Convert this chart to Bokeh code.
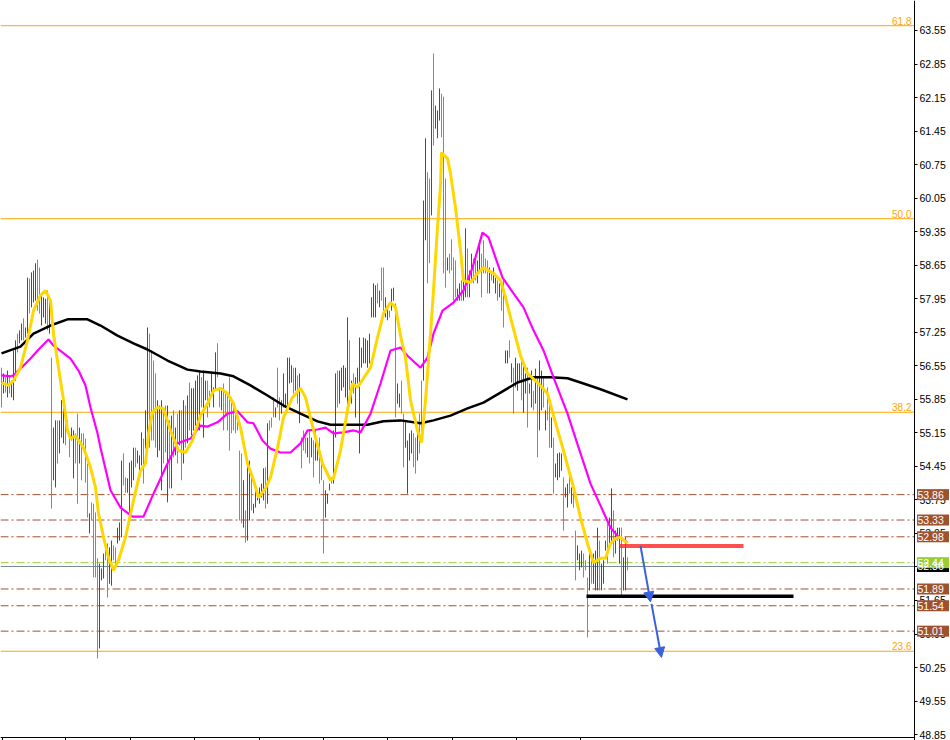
from bokeh.plotting import figure
from bokeh.models import (Range1d, FixedTicker, PrintfTickFormatter, Label, LinearAxis,
                          Arrow, NormalHead, ColumnDataSource)
from bokeh.embed import file_html
from bokeh.resources import INLINE

# ---------------- data ----------------
highs = [
56.51,56.39,56.31,56.45,56.31,56.24,56.87,57.08,57.22,57.29,
57.43,57.54,57.35,58.39,58.37,58.50,58.54,58.69,58.77,58.60,
58.02,57.98,57.95,58.12,57.98,56.72,55.26,55.41,55.41,55.41,
55.83,55.68,55.47,55.41,55.14,55.26,55.20,55.14,55.55,55.26,
55.14,55.14,55.03,54.51,53.47,53.70,53.67,53.49,52.53,52.42,
52.32,52.63,52.76,52.84,52.76,52.90,52.80,52.76,53.17,53.28,
54.57,54.72,54.22,54.20,54.53,54.57,54.84,54.84,54.78,54.68,
55.16,55.03,55.62,57.35,57.22,56.87,56.66,56.39,55.83,55.72,
55.83,55.62,55.72,55.72,55.41,55.51,55.62,55.26,55.55,55.62,
55.62,55.83,55.72,55.93,56.20,56.08,56.08,56.24,56.35,56.45,
56.31,56.45,56.24,56.24,56.03,56.39,56.10,56.83,57.02,56.10,
56.03,56.18,56.03,55.97,56.31,55.89,55.76,55.62,55.47,54.78,
54.72,54.16,53.53,54.57,54.57,54.22,53.67,54.01,53.95,54.01,
54.09,54.41,54.43,55.35,55.41,55.47,55.89,55.68,56.51,55.89,
55.83,56.39,55.97,56.72,56.72,56.56,56.51,56.51,56.35,56.39,
55.05,55.20,55.05,55.05,55.20,55.05,54.99,55.20,54.84,55.05,
54.68,54.16,53.95,53.88,54.09,54.22,55.20,56.39,56.45,56.45,
56.51,56.56,56.51,57.56,57.08,56.24,56.39,56.31,56.51,57.14,
56.93,57.14,57.12,57.08,57.22,57.98,58.27,58.23,58.27,58.12,
58.60,58.60,57.98,57.81,57.70,58.16,58.18,57.85,56.18,55.97,
56.24,55.55,55.41,54.99,55.14,55.20,55.14,55.05,55.26,55.55,
56.24,60.00,61.30,60.59,60.46,62.30,63.07,61.98,61.88,62.34,
62.23,62.17,60.46,58.81,58.89,59.19,58.81,58.75,58.16,58.27,
58.33,58.33,59.42,59.00,58.54,58.89,58.79,58.81,58.75,59.17,
58.89,59.17,58.79,58.75,58.60,58.48,58.60,58.39,58.33,58.27,
58.27,58.33,56.87,56.87,57.08,56.60,56.51,56.72,56.60,56.60,
56.72,56.60,56.39,56.51,56.18,56.45,56.03,56.49,56.31,56.66,
56.45,56.31,55.62,56.10,55.89,55.47,55.05,54.51,54.72,54.74,
54.72,54.22,54.01,54.09,54.30,54.01,53.95,53.11,52.80,52.63,
52.69,52.63,52.49,52.13,52.69,52.55,52.63,52.69,53.17,52.90,
52.42,52.49,52.90,53.26,53.38,53.99,53.53,53.11,53.17,53.17,
53.17,52.55,52.97,52.55]

lows = [
55.68,55.97,55.99,55.89,55.97,55.89,55.83,56.24,56.83,57.02,
57.08,57.08,57.14,57.22,57.64,57.77,57.87,57.91,57.70,57.64,
57.39,57.56,57.43,57.29,57.22,53.57,54.16,54.01,54.51,54.72,
55.05,54.93,54.89,55.16,54.64,54.99,54.20,54.51,53.67,54.51,
54.16,54.84,54.11,53.38,53.05,53.32,52.13,52.13,50.44,50.65,
52.07,52.11,52.49,51.71,52.00,51.96,52.49,52.34,52.84,52.90,
52.97,54.05,53.90,53.90,53.47,54.01,54.16,54.43,54.51,54.16,
54.47,54.09,54.82,54.93,54.84,54.99,54.99,54.84,54.64,54.78,
53.95,54.51,54.74,53.70,53.99,53.99,54.64,54.68,54.51,54.89,
54.16,54.51,54.84,54.93,55.20,55.10,55.20,55.30,55.20,55.20,
55.68,55.05,55.83,55.47,55.68,55.89,55.68,56.03,56.31,55.68,
55.62,55.20,55.55,55.20,54.78,55.14,55.20,55.14,55.20,53.32,
53.26,53.17,52.86,52.90,53.32,53.53,53.47,53.59,53.74,53.67,
53.80,53.74,53.57,53.67,55.20,55.26,55.47,55.47,55.68,55.41,
55.55,55.68,55.68,55.68,56.18,56.20,55.97,56.03,55.76,55.35,
54.41,54.78,54.72,54.64,54.51,54.64,54.22,54.57,54.57,54.09,
54.16,52.63,53.38,53.67,53.95,54.09,54.09,55.05,55.68,55.76,
56.03,56.10,55.89,55.62,56.03,55.76,55.97,55.47,56.18,54.72,
56.51,56.60,56.60,56.51,56.60,57.56,57.56,57.56,57.85,57.77,
57.91,57.70,57.56,57.50,57.56,57.70,57.91,55.47,55.76,55.68,
55.55,54.43,54.84,53.88,54.57,54.72,54.43,54.30,54.57,54.72,
54.99,56.24,59.17,58.27,58.69,59.69,61.15,61.50,61.30,61.67,
61.32,58.48,58.18,58.54,58.48,58.54,57.91,57.98,57.91,57.91,
57.91,57.91,57.98,57.98,57.98,58.33,58.27,58.33,58.27,58.54,
57.98,58.48,58.48,58.06,58.06,58.33,58.27,58.06,57.91,57.98,
57.70,57.35,56.60,56.60,56.72,56.20,55.55,56.10,56.03,56.24,
55.83,55.57,55.97,55.26,55.97,55.68,55.62,55.76,54.64,55.20,
55.62,55.68,55.20,55.41,54.84,54.84,53.88,54.22,54.16,54.22,
54.36,53.11,53.80,53.59,53.88,53.67,53.59,52.07,52.49,52.28,
52.34,52.13,52.28,50.88,51.86,52.00,52.00,51.86,51.86,51.86,
51.86,52.00,52.69,52.42,52.84,52.84,52.55,52.63,52.90,52.42,
51.71,51.86,51.86,52.28]

# bar direction: g = up bar, r = down bar
directions = ("grgrgrrrgr" "rgrrgrrrgg" "rrrgrgrrgr" "rrgrgrrggr" "ggggrggggr"
              "rrggrrggrr" "rggrrrrgrr" "rgrrggggrr" "rggrgrgrgr" "grgrgrrrrr"
              "grrggrrrgg" "rggggggggg" "grgrrgrrrr" "rrgrgggrgg" "rrrrrrgrgr"
              "gggrgrgrrg" "ggrrrgrrgr" "rrrrgrgrrr" "rrrrrrrrgr" "ggrrgrrgrr"
              "ggrrrrggrg" "grrggrgrrr" "gggrggggrr" "grrgrrggrr" "ggggrgrrgr"
              "ggrrgrgrrr" "grrgrrgrgr" "rgrggrgrrr" "rgrrgrggrr" "rgggrgrrrg"
              "rrrgrrgrrr" "grrg")

black_ma_x = [0, 9.5, 16, 24.5, 33, 43, 49.5, 58, 66, 73, 83, 93, 99.5, 109.5, 116,
              124.5, 133, 141, 149.5, 158, 164.5, 174.5, 183, 191, 199.5, 209.5, 216,
              224.5, 233, 241, 249.5, 258, 266, 274.5, 283, 291, 299.5, 313]
black_ma_y = [56.81, 56.95, 57.22, 57.39, 57.52, 57.52, 57.39, 57.18, 57.02, 56.89,
              56.66, 56.47, 56.43, 56.39, 56.33, 56.14, 55.93, 55.72, 55.55, 55.39,
              55.32, 55.32, 55.32, 55.39, 55.41, 55.35, 55.41, 55.51, 55.66, 55.78,
              55.99, 56.20, 56.31, 56.31, 56.29, 56.18, 56.06, 55.85]

magenta_ma_x = [0, 4.5, 6, 9.5, 14.5, 19.5, 23.5, 26, 30.5, 34.5, 38.5, 42, 44.5, 48,
                49.5, 54.5, 59.5, 65.5, 71, 76, 83, 88, 94.5, 99.5, 103, 108, 113, 118,
                123, 126, 130.5, 134.5, 139.5, 144.5, 149.5, 153, 158, 162, 166, 171,
                176, 179.5, 184.5, 189.5, 194.5, 199.5, 203, 209.5, 213, 216, 220.5,
                226, 231, 235.5, 238, 240.5, 243.5, 247, 250.5, 256, 261, 266, 271,
                276, 283, 289.5, 294.5, 299.5, 304.5, 308, 313]
magenta_ma_y = [56.35, 56.33, 56.35, 56.49, 56.70, 56.93, 57.10, 56.97, 56.83, 56.70,
                56.45, 56.14, 55.68, 55.14, 54.84, 53.95, 53.59, 53.40, 53.40, 53.88,
                54.51, 54.93, 55.03, 55.30, 55.28, 55.37, 55.55, 55.60, 55.37, 55.35,
                54.99, 54.82, 54.74, 54.74, 54.93, 55.20, 55.22, 55.26, 55.14, 55.16,
                55.20, 55.16, 55.55, 56.18, 56.87, 56.93, 56.76, 56.51, 56.72, 57.22,
                57.70, 57.87, 58.12, 58.60, 58.96, 59.33, 59.23, 58.81, 58.39, 58.06,
                57.77, 57.29, 56.87, 56.31, 55.55, 54.72, 54.09, 53.63, 53.17, 53.00,
                52.86]

yellow_ma_x = [0, 3.5, 6, 9.5, 13, 16, 19.5, 22, 24.5, 26, 28.5, 31, 33, 34.5, 37, 41,
               44.5, 47, 48.5, 51, 53.5, 56, 58.5, 62, 66, 69.5, 72, 73.5, 75.5, 78, 81,
               84.5, 88.5, 92, 95.5, 99.5, 103, 106, 109.5, 113, 116, 119.5, 123, 126,
               128.5, 132, 134.5, 138, 141, 145.5, 149.5, 152, 154.5, 157, 160.5, 164.5,
               166, 169.5, 173, 175.5, 178, 181, 184.5, 188, 191, 194.5, 197, 199.5,
               202, 204.5, 208, 210, 212, 214.5, 216, 218, 219.5, 220, 223, 224.5, 227,
               229.5, 231, 234.5, 238, 241, 246, 249.5, 252, 254.5, 259.5, 263, 268,
               273, 276, 281, 286, 289.5, 293, 296, 299.5, 302, 304.5, 307, 309.5, 313]
yellow_ma_y = [56.20, 56.14, 56.24, 56.51, 57.08, 57.70, 58.02, 58.12, 57.91, 57.22,
               56.51, 55.83, 55.20, 55.03, 55.09, 54.84, 54.43, 54.01, 53.47, 52.97,
               52.55, 52.28, 52.49, 52.97, 53.74, 54.36, 54.51, 55.14, 55.58, 55.68,
               55.66, 55.20, 54.78, 54.74, 54.99, 55.51, 55.76, 56.03, 56.08, 55.97,
               55.76, 55.26, 54.51, 54.16, 53.80, 53.99, 54.22, 54.84, 55.47, 55.89,
               56.08, 55.89, 55.47, 55.05, 54.51, 54.16, 54.20, 54.78, 55.62, 56.18,
               56.10, 56.29, 56.51, 57.14, 57.64, 57.87, 57.77, 57.18, 56.72, 55.83,
               55.20, 54.95, 55.83, 57.22, 58.12, 59.44, 60.31, 61.00, 60.88, 60.56,
               59.85, 58.96, 58.33, 58.29, 58.48, 58.60, 58.48, 58.33, 57.98, 57.56,
               56.76, 56.39, 56.20, 55.97, 55.51, 54.78, 54.01, 53.38, 52.84, 52.44,
               52.53, 52.53, 52.84, 52.94, 52.97, 52.84]

fib_levels = [63.65, 59.62, 55.58, 50.59]
fib_names = ["61.8", "50.0", "38.2", "23.6"]

brown_levels = [53.86, 53.33, 52.98, 51.89, 51.54, 51.01]
green_level = 52.44
bid_level = 52.36

red_line_x = [309, 371]
red_line_y = [52.79, 52.79]
black_line_x = [292.5, 396]
black_line_y = [51.74, 51.74]
arrow1 = [319.5, 52.79, 324.5, 51.62]
arrow2 = [325.0, 51.58, 330.0, 50.46]

y_ticks = [48.85, 49.55, 50.25, 50.95, 51.65, 52.35, 53.05, 53.75, 54.45, 55.15,
           55.85, 56.55, 57.25, 57.95, 58.65, 59.35, 60.05, 60.75, 61.45, 62.15,
           62.85, 63.55, 64.25]
x_ticks = [0.5, 32, 64.5, 96.5, 129, 161, 193, 225.5, 257.5, 289.5]

# ---------------- figure ----------------
X0, X1 = -0.5, 474.5        # full canvas width, 2 px per bar
XA = 456.5                  # price scale position (bar units)
Y0, Y1 = 48.727, 64.176     # full canvas height
YA = 48.80                  # time scale position (price units)
p = figure(width=950, height=740, output_backend="svg", toolbar_location=None,
           x_range=Range1d(X0, X1), y_range=Range1d(Y0, Y1),
           x_axis_location=None, y_axis_location=None,
           min_border_left=0, min_border_top=0, min_border_right=0, min_border_bottom=0)
p.grid.visible = False
p.outline_line_color = None
p.background_fill_color = "white"
p.border_fill_color = "white"

ya = LinearAxis(fixed_location=XA)
ya.ticker = FixedTicker(ticks=y_ticks)
ya.formatter = PrintfTickFormatter(format="%.2f")
ya.major_tick_in = 0
ya.major_tick_out = 3
ya.minor_tick_out = 0
ya.minor_tick_in = 0
ya.major_label_standoff = 2
ya.major_label_text_font = "Liberation Sans"
ya.major_label_text_font_size = "10.5px"
ya.major_label_text_color = "black"
ya.axis_line_color = "black"
p.add_layout(ya, "right")

xa = LinearAxis(fixed_location=YA)
xa.ticker = FixedTicker(ticks=x_ticks)
xa.bounds = (X0, XA)
xa.major_tick_in = 0
xa.major_tick_out = 4
xa.minor_tick_out = 0
xa.minor_tick_in = 0
xa.major_label_text_color = None
xa.axis_line_color = "black"
p.add_layout(xa, "below")

# horizontal levels (stop at the price scale)
nf = len(fib_levels)
p.segment(x0=[X0] * nf, y0=fib_levels, x1=[XA] * nf, y1=fib_levels,
          line_color="#FFA500", line_width=1)
for v, name in zip(fib_levels, fib_names):
    p.add_layout(Label(x=XA - 1.5, y=v, text=name, text_align="right", text_baseline="bottom",
                       text_color="#FFA500", text_font="Liberation Sans",
                       text_font_size="10px", y_offset=1))
nb = len(brown_levels)
p.segment(x0=[X0] * nb, y0=brown_levels, x1=[XA] * nb, y1=brown_levels,
          line_color="#A0522D", line_width=1, line_dash="8 3 2 3")
p.segment(x0=[X0], y0=[green_level], x1=[XA], y1=[green_level],
          line_color="#9ACD32", line_width=1, line_dash="8 3 2 3")
p.segment(x0=[X0], y0=[bid_level], x1=[XA], y1=[bid_level],
          line_color="#778899", line_width=1)

# bars
n = min(len(highs), len(lows), len(directions))
colors = ["#10DC10" if d == "g" else "#E01010" for d in directions[:n]]
src = ColumnDataSource(dict(x=list(range(n)), hi=highs[:n], lo=lows[:n], c=colors))
p.segment(x0="x", y0="lo", x1="x", y1="hi", line_color="c", line_width=1, source=src)

# moving averages
p.line(black_ma_x, black_ma_y, line_color="black", line_width=2.5)
p.line(magenta_ma_x, magenta_ma_y, line_color="#FF00FF", line_width=2.2)
p.line(yellow_ma_x, yellow_ma_y, line_color="#FFD700", line_width=3)

# trend objects
p.line(red_line_x, red_line_y, line_color="#FF3030", line_width=4, line_alpha=0.85)
p.line(black_line_x, black_line_y, line_color="black", line_width=3.5)
for a in (arrow1, arrow2):
    p.add_layout(Arrow(end=NormalHead(size=10, fill_color="#3A60DC", line_color="#3A60DC"),
                       x_start=a[0], y_start=a[1], x_end=a[2], y_end=a[3],
                       line_color="#3A60DC", line_width=2))

# price tags on the scale: box then text, bid first, green level on top
def tags(levels, bg):
    k = len(levels)
    p.rect(x=[XA + 9.25] * k, y=levels, width=32, height=11, width_units="screen",
           height_units="screen", fill_color=bg, line_color=None, level="annotation")
    for v in levels:
        p.add_layout(Label(x=XA + 1.5, y=v, text="%.2f" % v, text_align="left",
                           text_baseline="middle", text_color="white",
                           text_font="Liberation Sans", text_font_size="10.5px"))

tags([bid_level], "black")
tags(brown_levels, "#A0522D")
tags([green_level], "#9ACD32")

open("out.html", "w").write(file_html(p, INLINE))
